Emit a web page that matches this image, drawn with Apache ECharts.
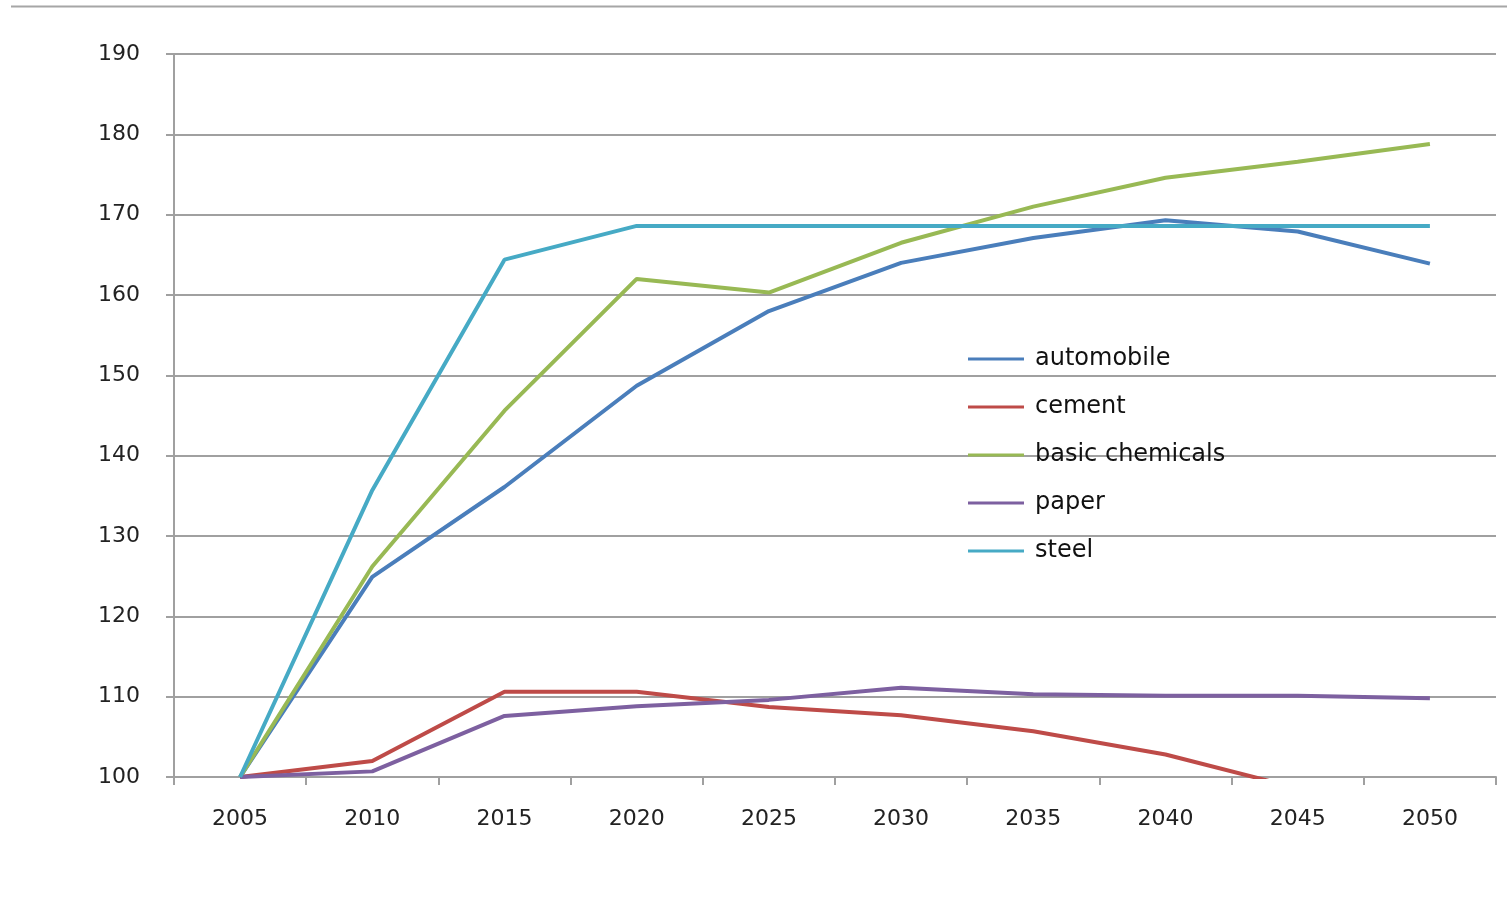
<!DOCTYPE html>
<html><head><meta charset="utf-8">
<script src="https://cdn.jsdelivr.net/npm/echarts@6/dist/echarts.min.js"></script>
<style>html,body{margin:0;padding:0;background:#fff;}#c{width:1507px;height:910px;}</style>
</head><body><div id="c"></div>
<script>
const years = ['2005','2010','2015','2020','2025','2030','2035','2040','2045','2050'];
const automobile = [100,124.9,136.1,148.7,158,164,167.1,169.3,167.9,163.9];
const cement = [100,102,110.6,110.6,108.7,107.7,105.7,102.8,98.6,96];
const basicChemicals = [100,126.2,145.6,162,160.3,166.5,171,174.6,176.6,178.8];
const paper = [100,100.7,107.6,108.8,109.6,111.1,110.3,110.1,110.1,109.8];
const steel = [100,135.7,164.4,168.6,168.6,168.6,168.6,168.6,168.6,168.6];
const yTicks = {min:100, max:190, interval:10};

const colors = ['#4a7ebb','#be4b48','#98b954','#7d60a0','#46aac5'];
const names = ['automobile','cement','basic chemicals','paper','steel'];
const data = [automobile, cement, basicChemicals, paper, steel];

const chart = echarts.init(document.getElementById('c'));
chart.setOption({
  animation:false,
  color: colors,
  grid:{left:174, right:11, top:54, bottom:133, containLabel:false},
  legend:{
    orient:'vertical', left:963, top:342, itemGap:24, itemWidth:56, itemHeight:24.2,
    icon:'path://M0,11 L56,11 L56,14 L0,14 Z',
    textStyle:{fontFamily:'DejaVu Sans, Verdana', fontSize:24, lineHeight:24, color:'#111', padding:[0,0,0,6]},
    data: names
  },
  graphic:[{type:'line', shape:{x1:11,y1:6.5,x2:1507,y2:6.5}, style:{stroke:'#a6a6a6', lineWidth:2}}],
  xAxis:{
    type:'category', data: years, boundaryGap:true,
    axisLine:{lineStyle:{color:'#a0a0a0', width:2}},
    axisTick:{show:true, interval:0, alignWithLabel:false, length:8, lineStyle:{color:'#a0a0a0', width:2}},
    axisLabel:{interval:0, fontFamily:'DejaVu Sans, Verdana', fontSize:22, color:'#222', margin:31}
  },
  yAxis:{
    type:'value', min:yTicks.min, max:yTicks.max, interval:yTicks.interval,
    axisLine:{show:true, lineStyle:{color:'#a0a0a0', width:2}},
    axisTick:{show:true, length:8, lineStyle:{color:'#a0a0a0', width:2}},
    axisLabel:{fontFamily:'DejaVu Sans, Verdana', fontSize:22, color:'#222', margin:34},
    splitLine:{lineStyle:{color:'#a0a0a0', width:2}}
  },
  series: names.map((n,i)=>({
    name:n, type:'line', data:data[i], symbol:'none', clip:true,
    lineStyle:{width:4, color:colors[i]}, itemStyle:{color:colors[i]}
  }))
});
</script></body></html>
